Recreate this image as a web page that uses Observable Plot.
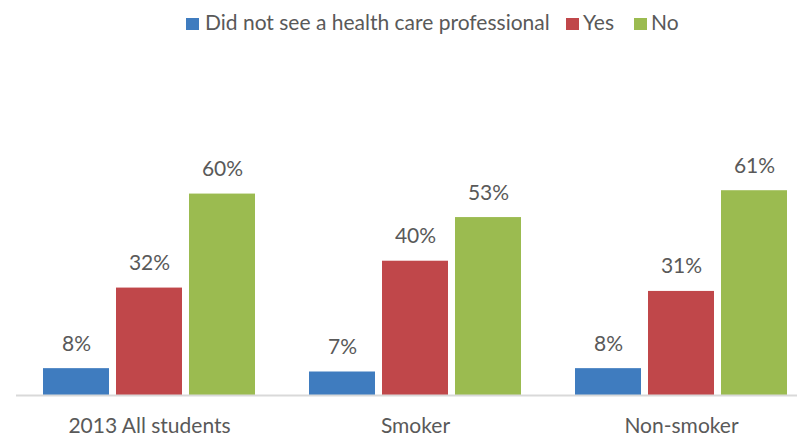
<!DOCTYPE html>
<html>
<head>
<meta charset="utf-8">
<script src="https://cdn.jsdelivr.net/npm/d3@7"></script>
<script src="https://cdn.jsdelivr.net/npm/@observablehq/plot@0.6"></script>
<style>
  body { margin: 0; background: #fff; font-family: Lato, "Open Sans", sans-serif; }
  #wrap { width: 797px; height: 436px; overflow: hidden; position: relative; }
  #legend { position: relative; height: 40px; width: 797px; }
  .sw { position: absolute; top: 18px; width: 13px; height: 12px; }
  .lt { position: absolute; top: 10px; font-size: 21px; color: #595959; line-height: 24px; white-space: nowrap; }
  svg { display: block; overflow: visible; }
</style>
</head>
<body>
<div id="wrap">
  <div id="legend"></div>
  <div id="chart"></div>
</div>
<script>
const categories = ["2013 All students", "Smoker", "Non-smoker"];
const series = ["Did not see a health care professional", "Yes", "No"];
const colors = ["#3f7cbf", "#c0474a", "#9bbb50"];
const notSeen = [8, 7, 8];
const yes = [32, 40, 31];
const no = [60, 53, 61];

const values = [notSeen, yes, no];
const data = [];
categories.forEach((c, i) => {
  series.forEach((s, j) => data.push({category: c, series: s, value: values[j][i]}));
});

// legend
const legendPos = [[186, 205], [566, 583], [634, 651]];
const legend = document.getElementById("legend");
series.forEach((s, j) => {
  const sw = document.createElement("div");
  sw.className = "sw";
  sw.style.left = legendPos[j][0] + "px";
  sw.style.background = colors[j];
  legend.appendChild(sw);
  const t = document.createElement("div");
  t.className = "lt";
  t.style.left = legendPos[j][1] + "px";
  t.textContent = s;
  legend.appendChild(t);
});

const chart = Plot.plot({
  width: 797,
  height: 396,
  marginLeft: 16,
  marginRight: -17,
  marginTop: 120,
  marginBottom: 41,
  style: {fontFamily: "Lato, 'Open Sans', sans-serif", background: "transparent"},
  fx: {domain: categories, padding: 0, label: null, axis: "bottom", tickSize: 0, tickPadding: 23, fontSize: 21},
  x: {domain: series, paddingInner: 0.09, paddingOuter: 0.35, axis: null},
  y: {domain: [0, 70], axis: null},
  color: {domain: series, range: colors},
  marks: [
    Plot.barY(data, {fx: "category", x: "series", y: "value", fill: "series"}),
    Plot.ruleY([0], {stroke: "#d9d9d9", strokeWidth: 2}),
    Plot.text(data, {fx: "category", x: "series", y: "value", text: d => d.value + "%",
      lineAnchor: "bottom", dy: -18, fontSize: 21, fill: "#595959"})
  ]
});
chart.querySelectorAll("[aria-label='fx-axis'] text, g[aria-label^='fx-axis'] text").forEach(t => { t.setAttribute("fill", "#595959"); t.style.fontSize = "21px"; });
document.getElementById("chart").appendChild(chart);
</script>
</body>
</html>
